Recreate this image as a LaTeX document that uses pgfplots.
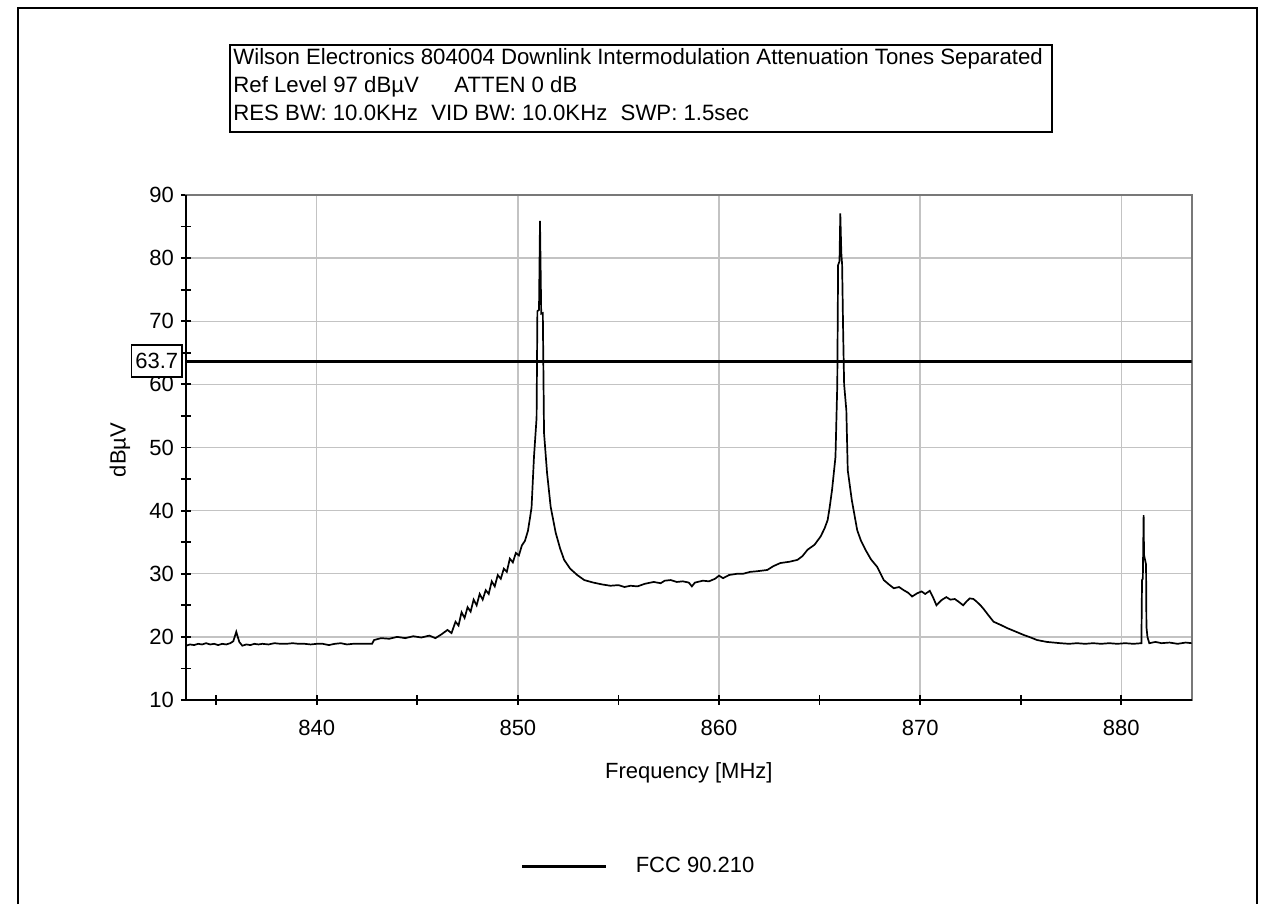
\documentclass[border=0pt]{standalone}
\usepackage{fontspec}
\setmainfont{Liberation Sans}
\usepackage{pgfplots}
\pgfplotsset{compat=1.18}
\definecolor{gridgray}{RGB}{195,195,195}
\definecolor{framegray}{RGB}{120,120,120}
\newcommand{\lbl}{\fontsize{11}{13}\selectfont}
\begin{document}
\begin{tikzpicture}
% page size (1264x900 px at 0.5pt per px)
\path (0pt,0pt) rectangle (632pt,450pt);
\draw[line width=1pt] (9pt,-2pt) -- (9pt,446pt) -- (628.5pt,446pt) -- (628.5pt,-2pt);
% header box
\draw[line width=0.8pt] (115pt,384pt) rectangle (526pt,427.5pt);
\node[anchor=base west,inner sep=0pt,font=\fontsize{11.1}{13}\selectfont] at (116.5pt,417.5pt) {Wilson Electronics 804004 Downlink Intermodulation Attenuation Tones Separated};
\node[anchor=base west,inner sep=0pt,font=\fontsize{11.1}{13}\selectfont] at (116.5pt,403.5pt) {Ref Level 97 dBµV\hspace{1.6em}ATTEN 0 dB};
\node[anchor=base west,inner sep=0pt,font=\fontsize{11.1}{13}\selectfont] at (116.5pt,389.5pt) {RES BW: 10.0KHz\hspace{0.6em}VID BW: 10.0KHz\hspace{0.6em}SWP: 1.5sec};

\begin{axis}[
  name=ax,
  at={(93pt,100pt)}, anchor=south west,
  scale only axis, width=502.85pt, height=252.5pt,
  xmin=833.5, xmax=883.5, ymin=10, ymax=90,
  xtick={840,850,860,870,880}, minor xtick={835,845,855,865,875},
  ytick={10,20,...,90}, minor ytick={15,25,...,85},
  tick pos=left, tick align=center,
  major tick length=5pt, minor tick length=5pt,
  every tick/.style={black,line width=0.9pt},
  grid=major, grid style={gridgray,line width=0.7pt},
  axis line style={framegray,line width=1pt},
  /pgf/number format/assume math mode=true,
  xticklabel style={font=\lbl,yshift=-4pt},
  yticklabel style={font=\lbl,xshift=0pt},
  xlabel={Frequency [MHz]}, ylabel={dBµV},
  label style={font=\lbl},
  xlabel style={at={(axis description cs:0.5,-0.145)},anchor=center},
  ylabel style={at={(axis description cs:-0.0656,0.495)},anchor=center},
  legend style={draw=none,fill=none,at={(axis description cs:0.451,-0.329)},anchor=center,font=\lbl},
  legend image code/.code={\draw[#1,line width=1.5pt] (0pt,0pt) -- (42pt,0pt); \path (54pt,0pt);},
  legend cell align=left,
]
\addplot[black,line width=0.85pt,forget plot] coordinates {
(833.5,18.6)(833.7,18.8)(833.9,18.7)(834.1,18.9)(834.3,18.8)(834.5,19.0)(834.7,18.8)
(834.9,18.9)(835.1,18.7)(835.3,18.9)(835.5,18.8)(835.7,19.0)(835.85,19.3)(836.0,20.8)
(836.15,19.2)(836.3,18.6)(836.5,18.8)(836.7,18.7)(836.9,18.9)(837.1,18.8)(837.3,18.9)
(837.6,18.8)(837.9,19.0)(838.2,18.9)(838.5,18.9)(838.8,19.0)(839.1,18.9)(839.4,18.9)
(839.7,18.8)(840.0,18.9)(840.3,18.9)(840.6,18.7)(840.9,18.9)(841.2,19.0)(841.5,18.8)
(841.8,18.9)(842.1,18.9)(842.4,18.9)(842.75,18.9)(842.85,19.5)(843.2,19.8)(843.6,19.7)
(844.0,20.0)(844.4,19.8)(844.8,20.1)(845.2,19.9)(845.6,20.2)(845.9,19.8)(846.2,20.4)
(846.5,21.1)(846.7,20.6)(846.9,22.4)(847.05,21.8)(847.2,23.9)(847.35,23.0)(847.5,24.7)
(847.65,24.0)(847.8,25.9)(847.95,25.0)(848.1,26.8)(848.25,25.9)(848.4,27.4)(848.55,26.8)
(848.7,28.8)(848.85,28.0)(849.0,29.8)(849.15,29.2)(849.3,30.8)(849.45,30.3)(849.6,32.4)
(849.75,31.8)(849.9,33.3)(850.05,32.9)(850.2,34.5)(850.35,35.2)(850.5,36.8)(850.6,38.8)
(850.68,40.5)(850.8,48.5)(850.93,54.7)(850.97,71.6)(851.05,71.8)(851.1,85.9)(851.16,71.2)
(851.24,71.3)(851.3,52.3)(851.45,46.0)(851.63,40.6)(851.88,36.5)(852.1,34.0)(852.3,32.2)
(852.6,30.8)(852.95,29.8)(853.3,29.0)(853.75,28.6)(854.2,28.3)(854.6,28.1)(855.0,28.2)
(855.3,27.9)(855.6,28.1)(855.95,28.0)(856.3,28.4)(856.75,28.7)(857.1,28.5)(857.3,28.9)
(857.6,29.0)(857.9,28.7)(858.2,28.8)(858.5,28.6)(858.65,28.0)(858.8,28.6)(859.2,28.9)
(859.5,28.8)(859.8,29.2)(860.0,29.7)(860.2,29.3)(860.5,29.8)(860.9,30.0)(861.2,30.0)
(861.55,30.3)(861.9,30.4)(862.4,30.6)(862.7,31.2)(863.05,31.7)(863.5,31.9)(863.9,32.2)
(864.15,32.8)(864.4,33.8)(864.75,34.6)(865.05,35.9)(865.25,37.2)(865.4,38.5)(865.5,40.5)
(865.62,43.3)(865.79,48.5)(865.88,60.0)(865.92,78.9)(865.99,79.5)(866.03,87.1)(866.08,80.8)
(866.12,79.0)(866.17,68.6)(866.22,60.0)(866.33,55.9)(866.4,46.4)(866.6,41.7)(866.87,36.9)
(867.05,35.3)(867.28,33.8)(867.55,32.3)(867.86,31.1)(868.19,29.0)(868.45,28.3)(868.69,27.7)
(868.95,27.9)(869.18,27.4)(869.4,27.0)(869.6,26.4)(869.85,26.9)(870.07,27.2)(870.25,26.8)
(870.48,27.3)(870.65,26.2)(870.81,25.0)(871.05,25.8)(871.3,26.3)(871.5,25.9)(871.72,26.0)
(871.9,25.6)(872.14,25.0)(872.3,25.6)(872.47,26.1)(872.65,26.0)(872.8,25.6)(873.0,25.0)
(873.16,24.4)(873.4,23.4)(873.65,22.4)(874.0,21.9)(874.32,21.4)(874.7,20.9)(875.15,20.3)
(875.5,19.9)(875.81,19.5)(876.3,19.2)(876.97,19.0)(877.4,18.9)(877.8,19.0)(878.2,18.9)
(878.6,19.0)(879.0,18.9)(879.4,19.0)(879.8,18.9)(880.2,19.0)(880.6,18.9)(881.0,19.0)
(881.03,29.0)(881.07,29.2)(881.11,39.3)(881.13,33.0)(881.2,31.9)(881.23,31.5)(881.25,21.6)
(881.3,20.0)(881.39,19.0)(881.7,19.2)(882.0,19.0)(882.4,19.1)(882.8,18.9)(883.2,19.1)(883.5,19.0)
};
\addplot[black,line width=1.5pt] coordinates {(833.5,63.7)(883.5,63.7)};
\addlegendentry{FCC 90.210}
\coordinate (lim) at (axis cs:833.5,63.7);
\end{axis}
% left and bottom axis lines in black
\draw[black,line width=1.3pt] (ax.north west) -- (ax.south west) -- (ax.south east);
\node[draw,line width=0.8pt,fill=white,anchor=east,inner sep=2pt,
  minimum height=16pt,font=\lbl] at ([xshift=-1.5pt]lim) {63.7};
\end{tikzpicture}
\end{document}
